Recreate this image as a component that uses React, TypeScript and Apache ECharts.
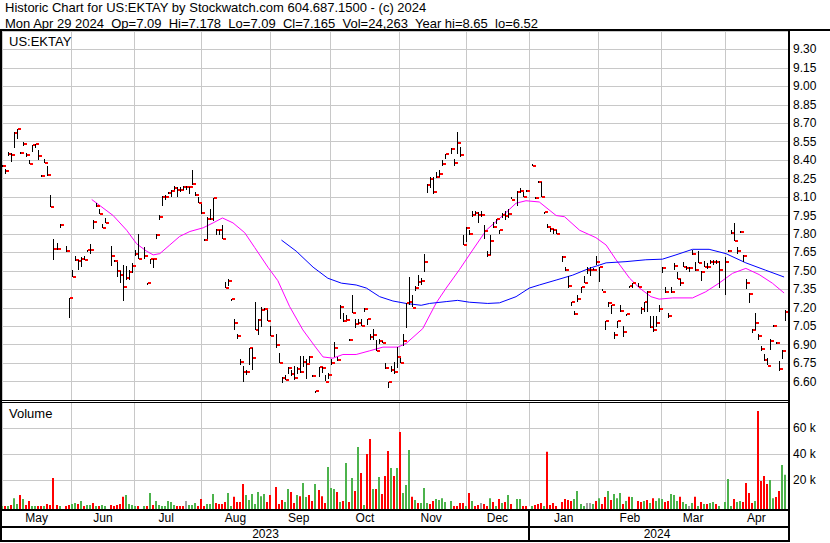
import React, { useEffect, useRef } from 'react';
import * as echarts from 'echarts';

// ---------- texts ----------
const NB = '\u00a0 ';
const TITLE_LINE_1 = 'Historic Chart for US:EKTAY by Stockwatch.com 604.687.1500 - (c) 2024';
const TITLE_LINE_2 = [
  'Mon Apr 29 2024', 'Op=7.09', 'Hi=7.178', 'Lo=7.09', 'Cl=7.165', 'Vol=24,263', 'Year hi=8.65', 'lo=6.52',
].join(NB);
const SYMBOL_LABEL = 'US:EKTAY';
const VOLUME_LABEL = 'Volume';

// ---------- x axis: one slot per weekday, 1 May 2023 .. 29 Apr 2024 (holidays left empty) ----------
const SLOT_COUNT = 261;
const monthNames = ['May', 'Jun', 'Jul', 'Aug', 'Sep', 'Oct', 'Nov', 'Dec', 'Jan', 'Feb', 'Mar', 'Apr'];
const monthGridStarts = [0, 23, 44, 66, 89, 109, 132, 154, 175, 198, 219, 240];
const yearNames = ['2023', '2024'];
const yearStarts = [0, 175];

// ---------- price data (null = market holiday) ----------
const highs = [
  8.36, 8.33, 8.47, 8.46, 8.63, 8.65, 8.47, 8.55, 8.46, 8.40,
  8.52, 8.53, 8.48, 8.28, 8.41, 8.35, 8.12, 7.76, 7.73, 7.88,
  null, 7.70, 7.28, 7.51, 7.62, 7.59, 7.61, 7.62, 7.67, 7.72,
  7.91, 8.05, 8.00, 7.88, 7.93, null, 7.70, 7.59, 7.57, 7.50,
  7.55, 7.54, 7.51, 7.56, 7.67, 7.80, null, 7.69, 7.40, 7.60,
  7.60, 7.80, 7.95, 8.11, 8.12, 8.14, 8.16, 8.19, 8.18, 8.18,
  8.19, 8.19, 8.18, 8.32, 8.14, 8.10, 8.04, 7.76, 7.94, 8.00,
  8.09, 7.84, 7.83, 7.87, 7.41, 7.43, 7.27, 7.11, 6.99, 6.78,
  6.73, 6.69, 6.87, 6.87, 7.25, 7.11, 7.21, 7.20, 7.18, 7.05,
  null, 6.99, 6.83, 6.64, 6.65, 6.72, 6.69, 6.73, 6.72, 6.81,
  6.81, 6.78, 6.81, 6.65, 6.525, 6.72, 6.72, 6.65, 6.67, 6.78,
  6.92, 6.80, 7.22, 7.16, 7.14, 6.945, 7.30, 7.11, 7.11, 7.11,
  7.20, 7.11, 6.99, 7.03, 6.94, 6.95, 6.93, 6.75, 6.60, 6.73,
  6.76, 6.88, 6.79, 6.99, 7.24, 7.45, 7.30, 7.38, 7.47, 7.44,
  7.64, 8.21, 8.26, 8.26, 8.30, 8.32, 8.40, 8.45, null, 8.50,
  8.41, 8.63, 8.51, 7.79, 7.86, 7.83, 7.99, 7.99, 7.98, 7.99,
  7.87, 7.66, 7.79, 7.90, 7.92, 7.83, 7.97, 7.99, 8.00, 8.10,
  null, 8.15, 8.17, 8.14, 8.16, null, 8.37, 8.10, 8.23, 8.22,
  7.98, 7.88, 7.85, 7.84, 7.83, null, 7.62, 7.53, 7.46, 7.25,
  7.17, 7.30, 7.37, 7.46, 7.53, 7.53, 7.52, 7.62, 7.53, 7.35,
  7.09, 7.25, 7.22, 7.00, 7.09, 7.22, 7.05, 7.15, 7.38, 7.40,
  null, 7.40, 7.21, 7.25, 7.34, 7.13, 7.13, 7.13, 7.22, 7.53,
  7.37, 7.16, 7.37, 7.56, 7.49, 7.43, 7.57, 7.54, 7.53, 7.67,
  7.57, 7.66, 7.50, 7.58, 7.56, 7.59, 7.59, 7.59, 7.58, null,
  7.61, 7.67, 7.83, 7.89, 7.69, 7.82, 7.63, 7.43, 7.32, 7.03,
  7.16, 6.99, 6.89, 6.82, 6.79, 6.95, 7.06, 6.92, 6.77, 6.86, 7.178,
];
const lows = [
  8.34, 8.29, 8.44, 8.39, 8.50, 8.57, 8.45, 8.52, 8.43, 8.37,
  8.46, 8.50, 8.40, 8.26, 8.38, 8.27, 8.02, 7.59, 7.67, 7.85,
  null, 7.65, 7.12, 7.45, 7.58, 7.51, 7.53, 7.59, 7.65, 7.64,
  7.84, 8.02, 7.96, 7.85, 7.89, null, 7.54, 7.57, 7.45, 7.40,
  7.26, 7.43, 7.43, 7.48, 7.62, 7.60, null, 7.59, 7.39, 7.56,
  7.53, 7.76, 7.91, 8.03, 8.08, 8.12, 8.10, 8.16, 8.10, 8.14,
  8.16, 8.16, 8.12, 8.20, 8.11, 8.05, 7.96, 7.75, 7.76, 7.91,
  7.90, 7.79, 7.79, 7.76, 7.36, 7.37, 7.26, 7.02, 6.95, 6.73,
  6.60, 6.65, 6.73, 6.69, 7.02, 6.98, 7.05, 7.18, 7.09, 6.97,
  null, 6.88, 6.75, 6.59, 6.61, 6.66, 6.64, 6.62, 6.66, 6.67,
  6.72, 6.62, 6.75, 6.64, 6.52, 6.64, 6.67, 6.60, 6.62, 6.73,
  6.80, 6.77, 7.11, 7.09, 7.10, 6.93, 7.15, 7.04, 7.07, 7.05,
  7.17, 7.06, 6.94, 6.94, 6.85, 6.91, 6.91, 6.70, 6.55, 6.68,
  6.66, 6.71, 6.75, 6.89, 7.04, 7.22, 7.20, 7.34, 7.38, 7.38,
  7.49, 8.14, 8.17, 8.12, 8.25, 8.26, 8.35, 8.41, null, 8.45,
  8.35, 8.45, 8.43, 7.71, 7.74, 7.79, 7.94, 7.96, 7.89, 7.94,
  7.76, 7.61, 7.63, 7.85, 7.88, 7.80, 7.93, 7.92, 7.93, 8.08,
  null, 8.03, 8.13, 8.10, 8.14, null, 8.35, 8.08, 8.21, 8.10,
  7.96, 7.85, 7.82, 7.80, 7.80, null, 7.57, 7.50, 7.36, 7.22,
  7.14, 7.24, 7.32, 7.40, 7.47, 7.46, 7.50, 7.55, 7.41, 7.33,
  7.02, 7.21, 7.15, 6.94, 7.03, 7.16, 6.96, 7.14, 7.36, 7.36,
  null, 7.37, 7.15, 7.17, 7.17, 7.03, 7.00, 7.04, 7.16, 7.48,
  7.32, 7.12, 7.32, 7.50, 7.43, 7.37, 7.53, 7.51, 7.49, 7.63,
  7.50, 7.56, 7.42, 7.53, 7.51, 7.56, 7.55, 7.56, 7.36, null,
  7.30, 7.66, 7.80, 7.74, 7.63, 7.81, 7.57, 7.35, 7.24, 7.00,
  7.02, 6.94, 6.85, 6.76, 6.73, 6.86, 7.05, 6.91, 6.69, 6.79, 7.09,
];
const closes = [
  8.35, 8.31, 8.45, 8.44, 8.62, 8.65, 8.46, 8.53, 8.44, 8.37,
  8.52, 8.53, 8.43, 8.27, 8.38, 8.28, 8.02, 7.68, 7.68, 7.87,
  null, 7.66, 7.28, 7.45, 7.59, 7.58, 7.60, 7.59, 7.67, 7.67,
  7.90, 8.03, 7.96, 7.85, 7.89, null, 7.62, 7.58, 7.50, 7.47,
  7.37, 7.44, 7.49, 7.54, 7.64, 7.60, null, 7.62, 7.40, 7.60,
  7.60, 7.79, 7.94, 8.10, 8.10, 8.13, 8.15, 8.17, 8.16, 8.16,
  8.18, 8.18, 8.18, 8.21, 8.12, 8.05, 7.97, 7.75, 7.92, 7.92,
  8.09, 7.83, 7.83, 7.76, 7.36, 7.42, 7.27, 7.08, 6.97, 6.76,
  6.68, 6.68, 6.87, 6.79, 7.02, 7.10, 7.18, 7.19, 7.09, 6.97,
  null, 6.90, 6.75, 6.63, 6.61, 6.71, 6.66, 6.63, 6.70, 6.68,
  6.76, 6.74, 6.80, 6.645, 6.52, 6.72, 6.71, 6.60, 6.65, 6.75,
  6.87, 6.775, 7.21, 7.09, 7.10, 6.94, 7.155, 7.07, 7.08, 7.05,
  7.19, 7.11, 6.96, 6.98, 6.85, 6.93, 6.915, 6.71, 6.60, 6.69,
  6.68, 6.80, 6.75, 6.93, 7.24, 7.25, 7.20, 7.36, 7.41, 7.42,
  7.57, 8.20, 8.25, 8.14, 8.26, 8.29, 8.37, 8.45, null, 8.49,
  8.38, 8.54, 8.44, 7.71, 7.85, 7.80, 7.95, 7.97, 7.95, 7.95,
  7.82, 7.63, 7.74, 7.86, 7.92, 7.83, 7.95, 7.945, 7.96, 8.08,
  null, 8.14, 8.15, 8.10, 8.15, null, 8.355, 8.09, 8.22, 8.10,
  7.98, 7.86, 7.84, 7.83, 7.80, null, 7.61, 7.51, 7.38, 7.25,
  7.15, 7.27, 7.37, 7.40, 7.51, 7.51, 7.51, 7.57, 7.53, 7.33,
  7.09, 7.24, 7.22, 6.98, 7.09, 7.17, 7.00, 7.15, 7.38, 7.40,
  null, 7.37, 7.19, 7.25, 7.33, 7.04, 7.02, 7.08, 7.19, 7.52,
  7.33, 7.13, 7.33, 7.54, 7.43, 7.40, 7.53, 7.52, 7.52, 7.64,
  7.51, 7.56, 7.49, 7.53, 7.53, 7.57, 7.57, 7.575, 7.51, null,
  7.57, 7.665, 7.81, 7.745, 7.665, 7.815, 7.62, 7.40, 7.315, 7.02,
  7.08, 6.97, 6.865, 6.775, 6.73, 6.93, 7.05, 6.91, 6.70, 6.85, 7.165,
];

// ---------- volume data (shares) and bar colour: 1 up, -1 down, 0 unchanged ----------
const volumes = [
  200, 200, 300, 1000, 6100, 1800, 8700, 5600, 1000, 4100,
  300, 300, 200, 200, 200, 1800, 1000, 21800, 1000, 300,
  null, 300, 1000, 1800, 2500, 1800, 4100, 200, 1000, 1000,
  2500, 300, 300, 1000, 300, null, 1000, 300, 1000, 1800,
  7400, 8700, 1800, 1000, 300, 200, null, 300, 200, 10200,
  1000, 4100, 1000, 300, 300, 4100, 3300, 1000, 300, 300,
  300, 4100, 1000, 1000, 2500, 300, 5600, 200, 1800, 1800,
  9500, 2500, 1800, 1800, 3300, 10200, 300, 7400, 3300, 3300,
  17200, 8700, 4800, 9500, 1800, 11000, 7800, 9500, 3300, 8700,
  null, 14800, 1800, 4800, 3300, 13300, 11000, 2500, 8700, 7800,
  17900, 7100, 8700, 4100, 17200, 12500, 7800, 2500, 30200, 14100,
  13300, 11000, 3300, 4100, 33300, 3300, 21800, 11800, 45600, 25600,
  1000, 40200, 51800, 13300, 13300, 22500, 9500, 23300, 42500, 29500,
  23300, 29500, 57200, 10200, 16400, 43300, 7400, 4800, 2500, 2500,
  14100, 2500, 1800, 4100, 5600, 4800, 6100, 3300, null, 4100,
  300, 300, 2500, 2500, 300, 10200, 4100, 200, 1000, 2500,
  1800, 300, 6100, 3300, 300, 5600, 2500, 3300, 8700, 1800,
  null, 5600, 5600, 300, 300, null, 300, 1000, 1800, 2500,
  300, 42000, 1000, 2500, 300, null, 3300, 5600, 4800, 4100,
  5600, 11800, 1800, 300, 2500, 2500, 1800, 4100, 6100, 1800,
  7200, 11800, 4800, 9500, 6100, 10200, 1800, 4100, 7400, 7100,
  null, 4100, 3300, 4100, 4800, 2500, 6100, 4100, 6100, 5600,
  3300, 4100, 9500, 8700, 4100, 7400, 3300, 1800, 300, 2500,
  7400, 300, 3300, 1800, 1800, 2500, 3300, 1800, 300, null,
  3300, 21000, 300, 5600, 3300, 4100, 3300, 17900, 10200, 2500,
  4100, 73300, 19500, 23300, 17200, 20200, 6100, 7100, 11800, 31800, 24263,
];
const volumeDirection = [
  1, -1, 1, -1, 1, 1, -1, 1, -1, -1,
  1, 1, -1, -1, 1, -1, -1, -1, -1, 1,
  null, -1, -1, 1, 1, -1, 1, -1, 1, 1,
  -1, 1, -1, 1, 1, null, -1, -1, -1, -1,
  -1, 1, 1, 1, 1, -1, null, 1, -1, 1,
  -1, 1, 1, 1, 1, 1, 1, 1, -1, -1,
  -1, 0, 1, 1, 1, -1, -1, -1, 1, 1,
  1, -1, -1, -1, -1, 1, 1, -1, -1, -1,
  -1, 1, 1, 1, 1, 1, 1, 1, -1, -1,
  null, -1, -1, -1, 1, 1, -1, -1, 1, -1,
  1, 1, -1, -1, 1, -1, -1, -1, 1, 1,
  1, -1, 1, -1, 1, -1, 1, -1, 1, -1,
  1, -1, -1, 1, -1, 1, -1, -1, -1, 1,
  -1, 1, -1, 1, 1, 1, -1, 1, -1, 1,
  1, 1, -1, -1, 1, 1, 1, 1, null, 1,
  -1, -1, -1, -1, 1, -1, 1, -1, -1, 0,
  -1, -1, 1, -1, 1, -1, 1, -1, 1, -1,
  null, 1, 1, -1, -1, null, 1, -1, -1, -1,
  1, -1, -1, -1, -1, null, -1, -1, -1, -1,
  1, 1, 1, 1, 0, 0, 1, -1, 1, -1,
  -1, 1, -1, 1, 1, 1, -1, 1, -1, 1,
  null, -1, -1, 1, -1, 1, -1, 1, 1, 1,
  -1, -1, 1, 1, 1, -1, 1, 1, 0, 1,
  -1, 1, -1, 1, -1, 1, 1, -1, 1, null,
  1, 1, 1, -1, 1, 1, -1, -1, -1, -1,
  1, -1, -1, -1, -1, 1, 1, -1, -1, 1, 1,
];

// ---------- moving averages: [slot, price] ----------
const maShort = [
  [29.3, 8.08], [36.4, 7.95], [40.9, 7.83], [44.2, 7.72], [47.5, 7.66], [49.7, 7.63], [51.9, 7.64],
  [55.2, 7.71], [58.5, 7.78], [61.9, 7.82], [66.3, 7.85], [69.6, 7.89], [72.7, 7.93], [76.2, 7.89],
  [80.1, 7.81], [83.4, 7.69], [87.8, 7.53], [91.1, 7.42], [95.0, 7.21], [99.4, 7.02], [103.3, 6.89],
  [106.1, 6.80], [109.4, 6.79], [112.7, 6.82], [117.1, 6.82], [121.6, 6.85], [126.0, 6.88],
  [131.0, 6.88], [133.7, 6.91], [139.2, 7.03], [143.7, 7.24], [147.0, 7.36], [151.4, 7.51],
  [155.8, 7.67], [160.3, 7.83], [165.8, 7.95], [170.2, 8.05], [173.5, 8.07], [177.9, 8.06],
  [183.5, 7.95], [186.3, 7.94], [191.3, 7.83], [196.7, 7.77], [200.1, 7.71], [203.4, 7.59],
  [207.9, 7.44], [211.2, 7.36], [215.0, 7.29], [217.7, 7.27], [222.2, 7.28], [228.8, 7.28],
  [233.2, 7.33], [237.6, 7.40], [242.1, 7.48], [246.5, 7.52], [250.9, 7.47], [255.3, 7.40],
  [259.2, 7.32],
];
const maLong = [
  [92.3, 7.75], [97.2, 7.66], [102.8, 7.53], [107.7, 7.44], [112.2, 7.40], [117.1, 7.385],
  [120.5, 7.36], [124.9, 7.29], [129.3, 7.255], [133.7, 7.235], [138.7, 7.22], [141.5, 7.235],
  [147.0, 7.25], [150.8, 7.26], [154.7, 7.245], [160.8, 7.235], [164.7, 7.24], [170.2, 7.29],
  [174.6, 7.36], [177.9, 7.385], [183.5, 7.425], [189.0, 7.465], [194.5, 7.52], [200.1, 7.565],
  [206.7, 7.575], [213.3, 7.59], [218.8, 7.595], [223.3, 7.63], [228.8, 7.675], [234.3, 7.675],
  [239.9, 7.64], [246.5, 7.565], [253.1, 7.505], [259.2, 7.45],
];

// ---------- axis ticks ----------
const PRICE_MIN = 6.45;
const PRICE_MAX = 9.45;
const PRICE_STEP = 0.15;
const VOL_MIN = 0;
const VOL_MAX = 80000;
const VOL_STEP = 20000;

// ---------- styling ----------
const FONT = '"Liberation Sans", Arial, Helvetica, sans-serif';
const GRID_COLOR = '#c8c8c8';
const UP = '#4cb34c';
const DOWN = '#ff0000';
const FLAT = '#a0a0a0';

function buildOption() {
  const slotNames = Array.from({ length: SLOT_COUNT }, (_, i) => `s${i}`);
  const monthStartSet = new Set(monthGridStarts);
  const monthLabelAt = new Map<number, string>();
  monthNames.forEach((m, k) => {
    const s = monthGridStarts[k];
    const e = k + 1 < monthGridStarts.length ? monthGridStarts[k + 1] : SLOT_COUNT;
    monthLabelAt.set(Math.floor((s + e - 1) / 2), m);
  });
  const yearLabelAt = new Map<number, string>();
  yearNames.forEach((y, k) => {
    const s = yearStarts[k];
    const e = k + 1 < yearStarts.length ? yearStarts[k + 1] : SLOT_COUNT;
    yearLabelAt.set(Math.floor((s + e - 1) / 2), y);
  });

  const ohlcData = closes
    .map((c, i) => (c == null ? null : [i, highs[i], lows[i], c]))
    .filter((d) => d != null);
  const volumeData = volumes
    .map((v, i) => (v == null ? null : [i, v, volumeDirection[i]]))
    .filter((d) => d != null);

  const labelStyle = { color: '#000', fontSize: 12, fontFamily: FONT };
  const black = '#000';
  const bar = (x: number, y: number, w: number, h: number) => ({
    type: 'rect', z: 100, silent: true, shape: { x, y, width: w, height: h }, style: { fill: black },
  });
  const txt = (x: number, y: number, text: string) => ({
    type: 'text', z: 100, silent: true, x, y,
    style: { text, fill: '#000', fontSize: 13, fontFamily: FONT, verticalAlign: 'middle', align: 'left' },
  });

  return {
    animation: false,
    backgroundColor: '#fff',
    textStyle: { fontFamily: FONT },
    grid: [
      { left: 2, top: 31, width: 786, height: 369 },
      { left: 2, top: 402.3, width: 786, height: 104 },
    ],
    xAxis: [
      {
        type: 'category', gridIndex: 0, data: slotNames, boundaryGap: true,
        axisLine: { show: false }, axisTick: { show: false }, axisLabel: { show: false },
        splitLine: { show: true, interval: (i: number) => monthStartSet.has(i), lineStyle: { color: GRID_COLOR, width: 1 } },
      },
      { type: 'value', gridIndex: 0, min: -0.5, max: SLOT_COUNT - 0.5, show: false },
      {
        type: 'category', gridIndex: 1, data: slotNames, boundaryGap: true, position: 'bottom',
        axisLine: { show: false }, axisTick: { show: false },
        axisLabel: {
          ...labelStyle, margin: 6,
          interval: (i: number) => monthLabelAt.has(i),
          formatter: (_v: string, i: number) => monthLabelAt.get(i) ?? '',
        },
        splitLine: { show: true, interval: (i: number) => monthStartSet.has(i), lineStyle: { color: GRID_COLOR, width: 1 } },
      },
      {
        type: 'category', gridIndex: 1, data: slotNames, boundaryGap: true, position: 'bottom', offset: 0,
        axisLine: { show: false }, axisTick: { show: false }, splitLine: { show: false },
        axisLabel: {
          ...labelStyle, margin: 22,
          interval: (i: number) => yearLabelAt.has(i),
          formatter: (_v: string, i: number) => yearLabelAt.get(i) ?? '',
        },
      },
    ],
    yAxis: [
      {
        type: 'value', gridIndex: 0, position: 'right', min: PRICE_MIN, max: PRICE_MAX, interval: PRICE_STEP,
        axisLine: { show: false }, axisTick: { show: false },
        axisLabel: {
          ...labelStyle, margin: 5,
          formatter: (v: number) =>
            Math.abs(v - PRICE_MIN) < 1e-6 || Math.abs(v - PRICE_MAX) < 1e-6 ? '' : v.toFixed(2),
        },
        splitLine: { show: true, lineStyle: { color: GRID_COLOR, width: 1 } },
      },
      {
        type: 'value', gridIndex: 1, position: 'right', min: VOL_MIN, max: VOL_MAX, interval: VOL_STEP,
        axisLine: { show: false }, axisTick: { show: false },
        axisLabel: {
          ...labelStyle, margin: 5,
          formatter: (v: number) => (v <= VOL_MIN || v >= VOL_MAX ? '' : `${v / 1000} k`),
        },
        splitLine: {
          show: true,
          lineStyle: { color: ['rgba(0,0,0,0)', GRID_COLOR, GRID_COLOR, GRID_COLOR, GRID_COLOR], width: 1 },
        },
      },
    ],
    series: [
      {
        name: 'short average', type: 'line', xAxisIndex: 1, yAxisIndex: 0, data: maShort,
        showSymbol: false, symbol: 'none', lineStyle: { color: '#ff00ff', width: 1 }, z: 3,
      },
      {
        name: 'long average', type: 'line', xAxisIndex: 1, yAxisIndex: 0, data: maLong,
        showSymbol: false, symbol: 'none', lineStyle: { color: '#0000ff', width: 1 }, z: 3,
      },
      {
        name: 'price', type: 'custom', xAxisIndex: 0, yAxisIndex: 0, data: ohlcData,
        encode: { x: 0, y: [1, 2, 3] }, z: 4,
        renderItem: (_p: any, api: any) => {
          const i = api.value(0);
          const ph = api.coord([i, api.value(1)]);
          const pl = api.coord([i, api.value(2)]);
          const pc = api.coord([i, api.value(3)]);
          const bw = api.size([1, 0])[0];
          const bx = Math.round(ph[0] - bw / 2 + 0.3);
          const top = Math.min(ph[1], pl[1]);
          const hgt = Math.max(Math.abs(pl[1] - ph[1]), 2);
          const cy = Math.round(pc[1]);
          return {
            type: 'group',
            children: [
              { type: 'rect', shape: { x: bx + 1, y: cy - 1, width: 3, height: 2 }, style: { fill: DOWN } },
              { type: 'rect', shape: { x: bx, y: Math.round(top), width: 1, height: Math.round(hgt) }, style: { fill: '#000' } },
            ],
          };
        },
      },
      {
        name: 'volume', type: 'custom', xAxisIndex: 2, yAxisIndex: 1, data: volumeData,
        encode: { x: 0, y: 1 }, z: 4,
        renderItem: (_p: any, api: any) => {
          const i = api.value(0);
          const d = api.value(2);
          const pt = api.coord([i, api.value(1)]);
          const base = api.coord([i, 0]);
          const bw = api.size([1, 0])[0];
          const bx = Math.round(pt[0] - bw / 2 + 0.3);
          const y0 = base[1] + 3;
          const yTop = Math.min(pt[1], y0 - 1);
          return {
            type: 'rect',
            shape: { x: bx - 1, y: yTop, width: 2, height: y0 - yTop },
            style: { fill: d > 0 ? UP : d < 0 ? DOWN : FLAT },
          };
        },
      },
    ],
    graphic: [
      txt(5, 7.5, TITLE_LINE_1),
      txt(5, 23, TITLE_LINE_2),
      txt(9, 41.5, SYMBOL_LABEL),
      txt(9, 413, VOLUME_LABEL),
      bar(0, 29, 830, 2),
      bar(0, 29, 2, 513),
      bar(788, 29, 2, 513),
      bar(0, 400, 790, 1),
      bar(0, 402, 790, 1),
      bar(0, 509, 790, 2),
      bar(0, 526, 790, 2),
      bar(0, 540, 790, 2),
      bar(528, 509, 2, 33),
    ],
  };
}

export default function App() {
  const ref = useRef<HTMLDivElement>(null);
  useEffect(() => {
    if (!ref.current) return;
    const chart = echarts.init(ref.current, undefined, { renderer: 'svg' });
    chart.setOption(buildOption() as any);
    return () => chart.dispose();
  }, []);
  return (
    <div
      ref={ref}
      style={{ position: 'fixed', left: 0, top: 0, width: 830, height: 543, background: '#fff' }}
    />
  );
}
